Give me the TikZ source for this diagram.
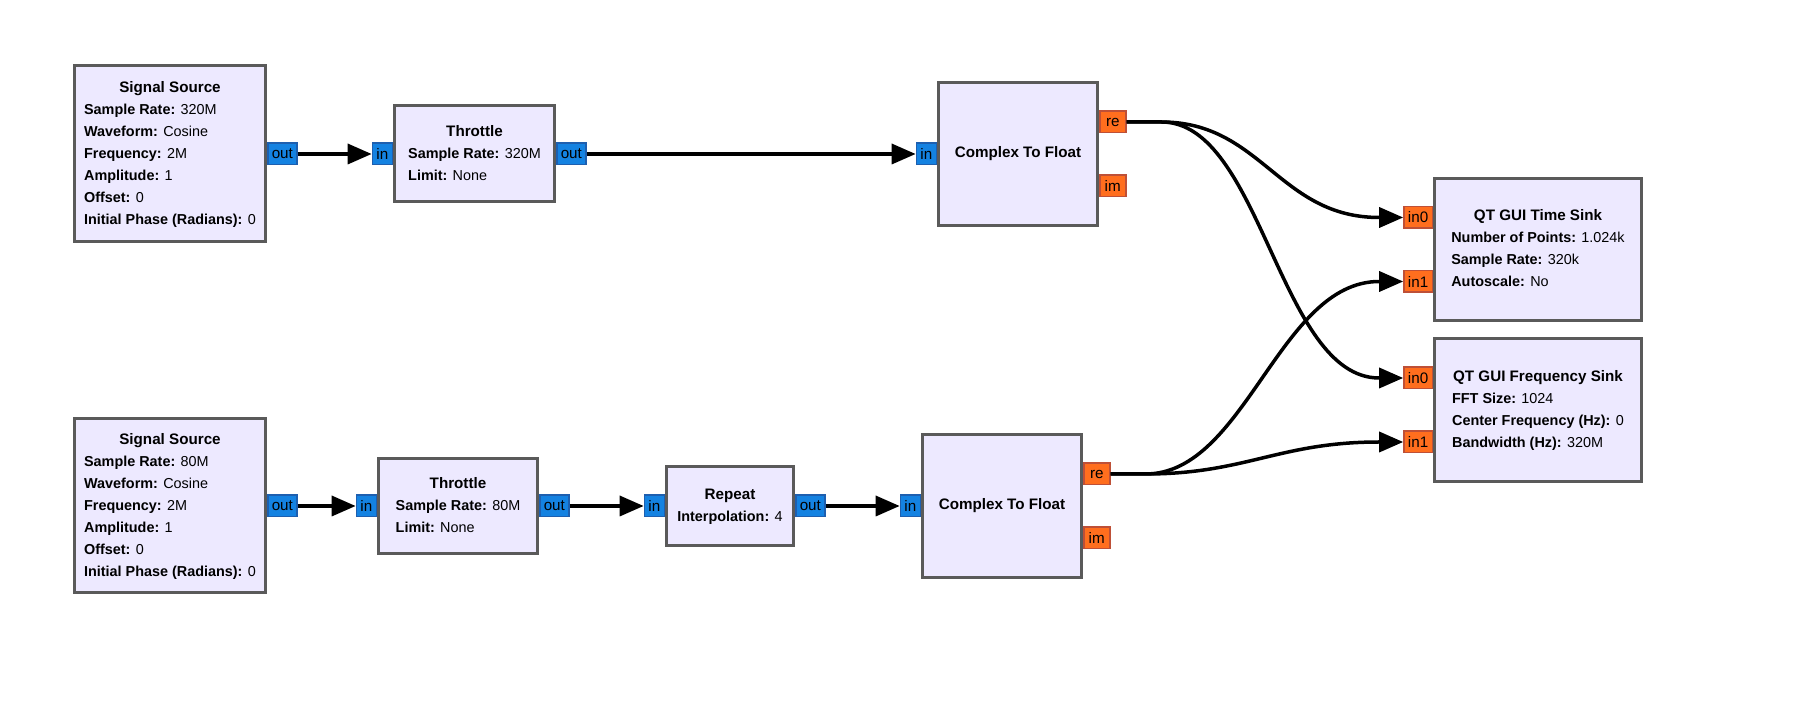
\documentclass[tikz,border=0pt]{standalone}
\usepackage{fontspec}
\setmainfont{Liberation Sans}
\usetikzlibrary{arrows.meta,calc}

\definecolor{blockfill}{RGB}{237,233,255}
\definecolor{blockline}{RGB}{90,90,90}
\definecolor{cplxfill}{RGB}{20,130,225}
\definecolor{cplxline}{RGB}{30,95,175}
\definecolor{fltfill}{RGB}{255,110,30}
\definecolor{fltline}{RGB}{190,80,55}

\newcommand{\blocktext}[2]{%
	\begin{tabular}{@{}l@{}}
		\multicolumn{1}{@{}c@{}}{\fontsize{7.6}{11}\selectfont\bfseries #1}\\
		#2
	\end{tabular}}

\begin{document}
\begin{tikzpicture}[x=0.5pt,y=-0.5pt,
	block/.style={draw=blockline,fill=blockfill,line width=1.5pt,inner sep=0pt,font=\fontsize{7.2}{11}\selectfont},
	port/.style={line width=0.75pt,inner xsep=2pt,inner ysep=0pt,minimum height=10.75pt,font=\fontsize{7.6}{8}\selectfont},
	cplx/.style={port,draw=cplxline,fill=cplxfill},
	flt/.style={port,draw=fltline,fill=fltfill,minimum width=13pt},
	wire/.style={line width=1.75pt,-{Triangle[length=12pt,width=10pt]}}]
	\useasboundingbox (0,0) rectangle (1806,726);
	
	% upper chain
	\node [block,minimum width=95.5pt,minimum height=88pt] at (170,154) (source 1) {\blocktext{Signal Source}{
		\textbf{Sample Rate:} 320M\\
		\textbf{Waveform:} Cosine\\
		\textbf{Frequency:} 2M\\
		\textbf{Amplitude:} 1\\
		\textbf{Offset:} 0\\
		\textbf{Initial Phase (Radians):} 0}};
	\node [block,minimum width=80pt,minimum height=48pt] at (474.5,154) (throttle 1) {\blocktext{Throttle}{
		\textbf{Sample Rate:} 320M\\
		\textbf{Limit:} None}};
	\node [block,minimum width=79.5pt,minimum height=71.5pt] at (1018,154) (cf 1) {\fontsize{7.6}{11}\selectfont\bfseries Complex To Float};
	
	% lower chain
	\node [block,minimum width=95.5pt,minimum height=87pt] at (170,506) (source 2) {\blocktext{Signal Source}{
		\textbf{Sample Rate:} 80M\\
		\textbf{Waveform:} Cosine\\
		\textbf{Frequency:} 2M\\
		\textbf{Amplitude:} 1\\
		\textbf{Offset:} 0\\
		\textbf{Initial Phase (Radians):} 0}};
	\node [block,minimum width=79.5pt,minimum height=47.5pt] at (458,506) (throttle 2) {\blocktext{Throttle}{
		\textbf{Sample Rate:} 80M\\
		\textbf{Limit:} None}};
	\node [block,minimum width=63.5pt,minimum height=39.5pt] at (730,506) (repeat) {\blocktext{Repeat}{
		\textbf{Interpolation:} 4}};
	\node [block,minimum width=79.5pt,minimum height=71.5pt] at (1002,506) (cf 2) {\fontsize{7.6}{11}\selectfont\bfseries Complex To Float};
	
	% sinks
	\node [block,minimum width=103.5pt,minimum height=71pt] at (1538,249.5) (time sink) {\blocktext{QT GUI Time Sink}{
		\textbf{Number of Points:} 1.024k\\
		\textbf{Sample Rate:} 320k\\
		\textbf{Autoscale:} No}};
	\node [block,minimum width=103.5pt,minimum height=71.5pt] at (1538,410) (freq sink) {\blocktext{QT GUI Frequency Sink}{
		\textbf{FFT Size:} 1024\\
		\textbf{Center Frequency (Hz):} 0\\
		\textbf{Bandwidth (Hz):} 320M}};
	
	% ports
	\node [cplx,anchor=west] at (source 1.east) (source 1 out) {out};
	\node [cplx,anchor=east] at (throttle 1.west) (throttle 1 in) {in};
	\node [cplx,anchor=west] at (throttle 1.east) (throttle 1 out) {out};
	\node [cplx,anchor=east] at (cf 1.west) (cf 1 in) {in};
	\node [flt,anchor=west,yshift=16pt] at (cf 1.east) (cf 1 re) {re};
	\node [flt,anchor=west,yshift=-16pt] at (cf 1.east) (cf 1 im) {im};
	
	\node [cplx,anchor=west] at (source 2.east) (source 2 out) {out};
	\node [cplx,anchor=east] at (throttle 2.west) (throttle 2 in) {in};
	\node [cplx,anchor=west] at (throttle 2.east) (throttle 2 out) {out};
	\node [cplx,anchor=east] at (repeat.west) (repeat in) {in};
	\node [cplx,anchor=west] at (repeat.east) (repeat out) {out};
	\node [cplx,anchor=east] at (cf 2.west) (cf 2 in) {in};
	\node [flt,anchor=west,yshift=16pt] at (cf 2.east) (cf 2 re) {re};
	\node [flt,anchor=west,yshift=-16pt] at (cf 2.east) (cf 2 im) {im};
	
	\node [flt,anchor=east,yshift=16pt] at (time sink.west) (time sink in0) {in0};
	\node [flt,anchor=east,yshift=-16pt] at (time sink.west) (time sink in1) {in1};
	\node [flt,anchor=east,yshift=16pt] at (freq sink.west) (freq sink in0) {in0};
	\node [flt,anchor=east,yshift=-16pt] at (freq sink.west) (freq sink in1) {in1};
	
	% connections
	\foreach \a/\b in {source 1 out/throttle 1 in,throttle 1 out/cf 1 in,source 2 out/throttle 2 in,throttle 2 out/repeat in,repeat out/cf 2 in}{
		\draw [wire] (\a.east) -- (\b.west);
	}
	
	\foreach \a/\b in {cf 1 re/time sink in0,cf 1 re/freq sink in0,cf 2 re/time sink in1,cf 2 re/freq sink in1}{
		\draw [wire] (\a.east) -- ++(35,0) .. controls +(100,0) and +(-100,0) .. ($(\b.west)+(-24,0)$) -- (\b.west);
	}
	
\end{tikzpicture}
\end{document}
